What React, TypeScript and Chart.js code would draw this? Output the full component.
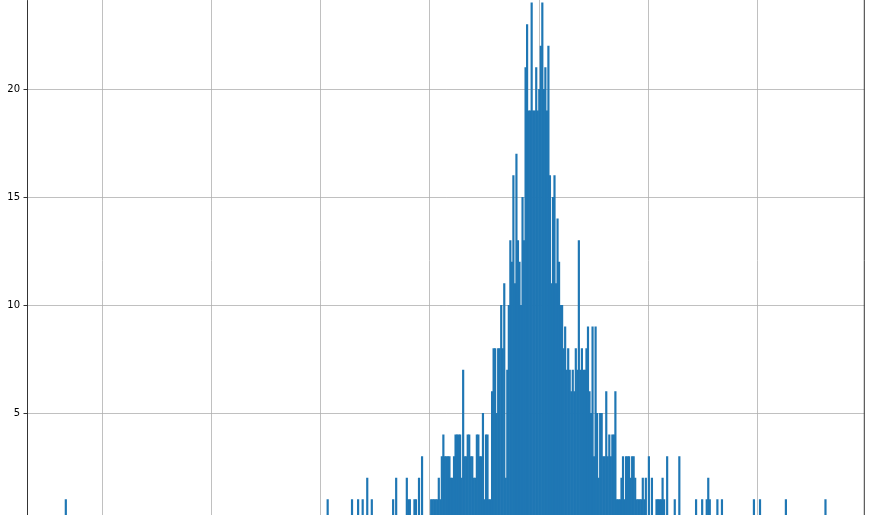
import React, { useEffect, useRef } from 'react';
import { Chart, registerables } from 'chart.js';

Chart.register(...registerables);

// Histogram: 500 equal-width bins, counts per bin.
const BIN_TOTAL = 500;
// Dense core of the histogram, starting at bin index CORE_START.
const CORE_START = 232;
const coreCounts = [
  2, 0, 3, 0, 0, 0, 0, 0, 1, 1,
  1, 1, 1, 2, 1, 3, 4, 3, 3, 3,
  3, 2, 2, 3, 4, 4, 4, 4, 2, 7,
  3, 3, 4, 4, 3, 3, 2, 2, 4, 4,
  3, 3, 5, 1, 4, 4, 1, 1, 6, 8,
  8, 5, 8, 8, 10, 8, 11, 2, 7, 10,
  13, 12, 16, 11, 17, 13, 12, 10, 15, 13,
  21, 23, 19, 19, 24, 19, 19, 21, 19, 20,
  22, 24, 20, 21, 19, 22, 16, 11, 15, 16,
  11, 14, 12, 10, 10, 8, 9, 7, 8, 7,
  6, 7, 6, 8, 7, 13, 7, 8, 7, 7,
  8, 9, 6, 5, 9, 3, 9, 5, 2, 5,
  5, 3, 3, 6, 3, 4, 3, 4, 4, 6,
  1, 1, 1, 2, 3, 1, 3, 3, 3, 2,
  3, 3, 2, 1, 1, 1, 1, 2, 1, 2,
  0, 3, 0, 2, 0, 0, 1, 1, 1, 1,
  2, 1, 0, 3, 0, 0, 0, 0, 1, 0,
  0, 3, 0, 0, 0, 0, 0, 0, 0, 0,
  0, 0, 1, 0, 0, 0, 1, 0, 0, 1,
  2, 1, 0, 0, 0, 0, 1, 0, 0, 1,
];
// Sparse tail bins outside the core.
const tailBins = [0, 172, 188, 192, 195, 198, 201, 215, 217, 224, 225, 226, 229, 230, 452, 456, 473, 499];
const tailCounts = [1, 1, 1, 1, 1, 2, 1, 1, 2, 2, 1, 1, 1, 1, 1, 1, 1, 1];

// Vertical grid positions (in bin units) and y tick values.
const xGridTicks = [24.48, 96.22, 167.96, 239.7, 311.44, 383.18, 454.92];
const yTicks = [5, 10, 15, 20];

const BAR_COLOR = '#1f77b4';
const GRID_COLOR = '#b0b0b0';

function buildData() {
  const counts: number[] = new Array(BIN_TOTAL).fill(0);
  coreCounts.forEach((c, i) => { counts[CORE_START + i] = c; });
  tailBins.forEach((b, i) => { counts[b] = tailCounts[i]; });
  return counts.map((c, i) => ({ x: i + 0.5, y: c }));
}

const rightSpine = {
  id: 'rightSpine',
  afterDraw(chart: any) {
    const { ctx, chartArea } = chart;
    ctx.save();
    ctx.strokeStyle = '#000';
    ctx.lineWidth = 0.8;
    ctx.beginPath();
    ctx.moveTo(chartArea.right, chartArea.top);
    ctx.lineTo(chartArea.right, chartArea.bottom);
    ctx.stroke();
    ctx.restore();
  },
};

export default function App() {
  const ref = useRef<HTMLCanvasElement | null>(null);

  useEffect(() => {
    if (!ref.current) return;
    const chart = new Chart(ref.current, {
      type: 'bar',
      data: {
        datasets: [
          {
            data: buildData(),
            backgroundColor: BAR_COLOR,
            borderWidth: 0,
            barPercentage: 1,
            categoryPercentage: 1,
          },
        ],
      },
      options: {
        animation: false,
        responsive: false,
        events: [],
        layout: { padding: { left: 0, right: 6.7, top: 0, bottom: 8.7 } },
        plugins: { legend: { display: false }, tooltip: { enabled: false } },
        scales: {
          x: {
            type: 'linear',
            min: -25,
            max: 525,
            offset: false,
            z: 1,
            afterBuildTicks: (scale: any) => {
              scale.ticks = xGridTicks.map((v) => ({ value: v }));
            },
            afterFit: (scale: any) => {
              scale.height = 0;
              scale.paddingLeft = 0;
              scale.paddingRight = 0;
              scale.paddingTop = 0;
              scale.paddingBottom = 0;
            },
            ticks: { display: false },
            grid: { color: GRID_COLOR, lineWidth: 0.8, drawTicks: false, offset: false },
            border: { display: false },
          },
          y: {
            type: 'linear',
            min: 0,
            max: 24.134,
            z: 1,
            afterBuildTicks: (scale: any) => {
              scale.ticks = yTicks.map((v) => ({ value: v }));
            },
            afterFit: (scale: any) => {
              scale.width = 27;
              scale.paddingTop = 0;
              scale.paddingBottom = 0;
              scale.paddingLeft = 0;
              scale.paddingRight = 0;
            },
            ticks: {
              color: '#000',
              padding: 3.5,
              font: { family: 'DejaVu Sans', size: 10 },
            },
            grid: {
              color: GRID_COLOR,
              lineWidth: 0.8,
              tickLength: 3.5,
              tickColor: '#000',
              tickWidth: 0.8,
            },
            border: { display: true, color: '#000', width: 0.8 },
          },
        },
      },
      plugins: [rightSpine],
    });
    return () => chart.destroy();
  }, []);

  return (
    <div style={{ position: 'fixed', left: 0, top: 0, width: 871, height: 515, overflow: 'hidden', background: '#fff' }}>
      <canvas ref={ref} width={871} height={530} style={{ width: 871, height: 530, display: 'block' }} />
    </div>
  );
}
